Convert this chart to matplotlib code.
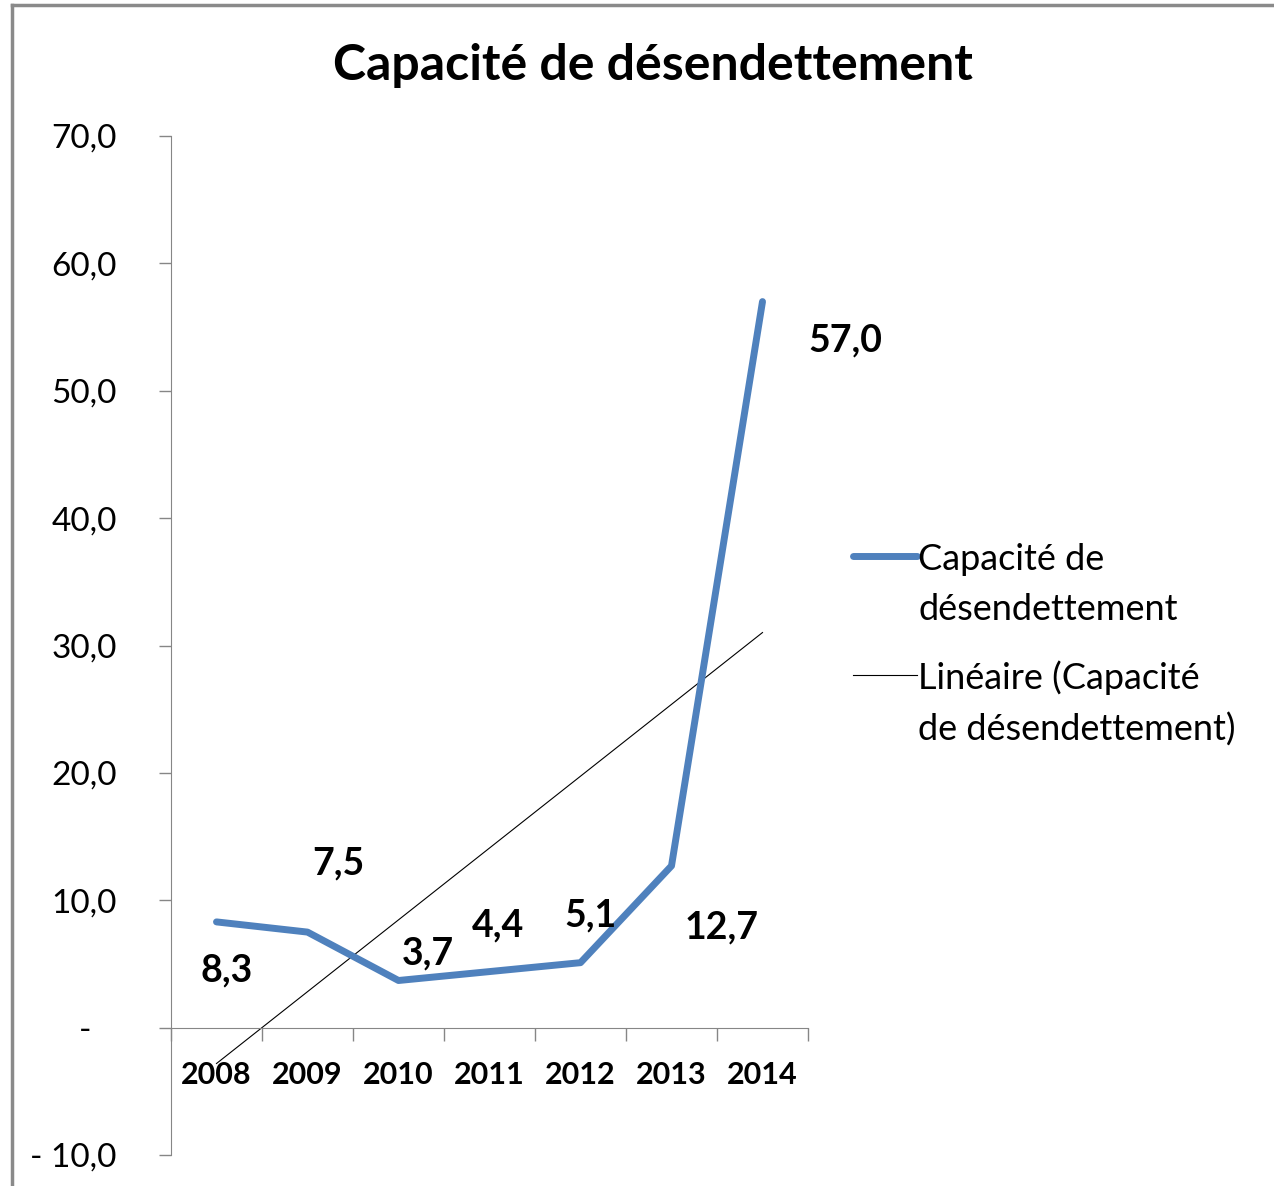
import matplotlib
matplotlib.use("Agg")
import matplotlib.pyplot as plt
import numpy as np
from matplotlib.lines import Line2D
from matplotlib.legend_handler import HandlerLine2D

plt.rcParams['font.family'] = ['Lato', 'DejaVu Sans']

annees = ['2008', '2009', '2010', '2011', '2012', '2013', '2014']
capacite = [8.3, 7.5, 3.7, 4.4, 5.1, 12.7, 57.0]
etiquettes = ['8,3', '7,5', '3,7', '4,4', '5,1', '12,7', '57,0']
y_ticks = [-10, 0, 10, 20, 30, 40, 50, 60, 70]
y_labels = ['- 10,0', '-   ', '10,0', '20,0', '30,0', '40,0', '50,0', '60,0', '70,0']

# décalage des étiquettes (pixels) par rapport au point
decal = [(10, -49), (31, 69), (29, 27), (8, 46), (10, 47), (50, -62), (83, -39)]

bleu = '#4F81BD'
gris = '#868686'


class HandlerHaut(HandlerLine2D):
    # aligne le trait sur la première ligne du texte, comme Excel
    def create_artists(self, legend, orig_handle, xdescent, ydescent, width, height, fontsize, trans):
        arts = super().create_artists(legend, orig_handle, xdescent, ydescent, width, height, fontsize, trans)
        for a in arts:
            yd = np.asarray(a.get_ydata(), dtype=float)
            a.set_ydata(yd + 21)
        return arts


fig = plt.figure(figsize=(12.74, 11.86), dpi=100)
ax = fig.add_axes([171/1274, 1 - 1155/1186, (808-171)/1274, (1155-136)/1186])

x = np.arange(len(annees))
ax.plot(x, capacite, color=bleu, lw=5, solid_capstyle='round', solid_joinstyle='round',
        label='Capacité de\ndésendettement', zorder=3)

a, b = np.polyfit(x, capacite, 1)
ax.plot(x, a * x + b, color='black', lw=0.8, label='Linéaire (Capacité\nde désendettement)', zorder=2)

for xi, yi, txt, (dx, dy) in zip(x, capacite, etiquettes, decal):
    ax.annotate(txt, (xi, yi), xytext=(dx, dy), textcoords='offset pixels',
                ha='center', va='center', fontsize=27, fontweight='bold')

ax.set_xlim(-0.5, 6.5)
ax.set_ylim(-10, 70)

ax.spines['top'].set_visible(False)
ax.spines['right'].set_visible(False)
ax.spines['bottom'].set_position(('data', 0))
ax.spines['left'].set_color(gris)
ax.spines['bottom'].set_color(gris)

ax.set_yticks(y_ticks)
ax.set_yticklabels(y_labels, fontsize=24)
ax.tick_params(axis='y', length=9, width=1, color=gris, pad=30)

ax.set_xticks(np.arange(-0.5, 7, 1))
ax.set_xticklabels([])
ax.set_xticks(x, minor=True)
ax.set_xticklabels(annees, minor=True, fontsize=22, fontweight='bold')
ax.tick_params(axis='x', which='major', length=9, width=1, color=gris, direction='out')
ax.tick_params(axis='x', which='minor', length=0, pad=24)

fig.text(653/1274, 1 - 65/1186, 'Capacité de désendettement', ha='center', va='center',
         fontsize=36, fontweight='bold')

leg = fig.legend(loc='upper left', bbox_to_anchor=(821/1274, 1 - 510/1186), frameon=False,
                 fontsize=26, handlelength=1.75, handletextpad=0.05, labelspacing=0.94,
                 handler_map={Line2D: HandlerHaut()})
for t in leg.get_texts():
    t.set_linespacing(1.65)

# cadre du graphique (partiellement visible)
fig.add_artist(Line2D([12/1274, 12/1274], [0, 1 - 5/1186], color='#8a8a8a', lw=2.5))
fig.add_artist(Line2D([12/1274, 1], [1 - 5/1186, 1 - 5/1186], color='#8a8a8a', lw=2.5))

fig.savefig('out.png', dpi=100)
